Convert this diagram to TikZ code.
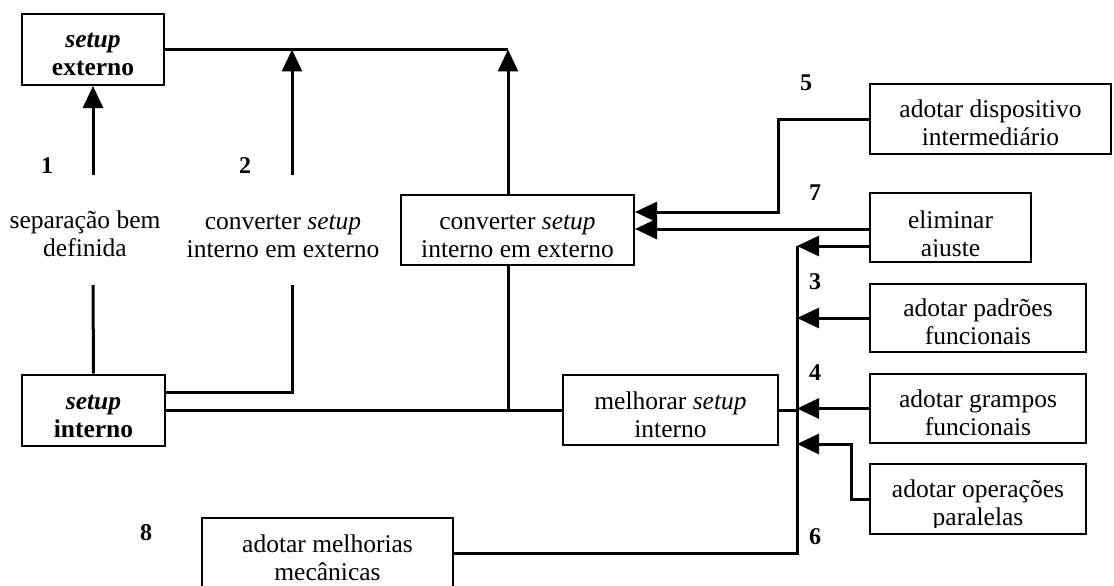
\documentclass[tikz,border=0pt]{standalone}
\usepackage{fontspec}
\setmainfont{Liberation Serif}
\usetikzlibrary{arrows.meta}
% two centred lines of equal height
\newcommand{\twolines}[2]{\strut#1\\\strut#2}

\begin{document}
\begin{tikzpicture}[x=1pt,y=-1pt,
  every node/.style={font=\fontsize{25.5}{28}\selectfont, inner sep=0pt},
  box/.style={draw, line width=2pt},
  txt/.style={align=center},
  num/.style={font=\fontsize{24}{26}\selectfont\bfseries},
  wire/.style={line width=3pt},
  arr/.style={wire, -{Triangle[length=22pt,width=20pt]}},
]
\useasboundingbox (0,0) rectangle (1114,586);

% boxes
\node[box, minimum width=142pt, minimum height=71pt] (ext)   at (93,49.5)   {};
\node[box, minimum width=143pt, minimum height=71pt] (int)   at (93.5,410)  {};
\node[box, minimum width=233pt, minimum height=70pt] (conv)  at (517.5,230) {};
\node[box, minimum width=215pt, minimum height=70pt] (mel)   at (670.5,410) {};
\node[box, minimum width=241pt, minimum height=70pt] (disp)  at (990.5,119) {};
\node[box, minimum width=161pt, minimum height=69pt] (elim)  at (950.5,227.5) {};
\node[box, minimum width=216pt, minimum height=68pt] (padr)  at (978,318)   {};
\node[box, minimum width=216pt, minimum height=69pt] (gramp) at (978,408.5) {};
\node[box, minimum width=216pt, minimum height=70pt] (oper)  at (978,499)   {};
\node[box, minimum width=251pt, minimum height=81pt] (mech)  at (327.5,558.5) {};

% box texts
\node[txt] (exttxt)  at ([yshift=-6pt]ext.center)  {\twolines{\textbf{\textit{setup}}}{\textbf{externo}}};
\node[txt] (inttxt)  at ([yshift=-8pt]int.center)  {\twolines{\textbf{\textit{setup}}}{\textbf{interno}}};
\node[txt] (convtxt) at ([yshift=-7.5pt]conv.center) {\twolines{converter \textit{setup}}{interno em externo}};
\node[txt] (meltxt)  at ([yshift=-8pt]mel.center)  {\twolines{melhorar \textit{setup}}{interno}};
\node[txt] (disptxt) at ([yshift=-7pt]disp.center) {\twolines{adotar dispositivo}{intermediário}};
\begin{scope}
  \clip (elim.north west) rectangle (elim.east |- 0,256.5);
  \node[txt] (elimtxt) at ([yshift=-9pt]elim.center) {\twolines{eliminar}{ajuste}};
\end{scope}
\node[txt] (padrtxt)  at ([yshift=-7pt]padr.center)  {\twolines{adotar padrões}{funcionais}};
\node[txt] (gramptxt) at ([yshift=-7pt]gramp.center) {\twolines{adotar grampos}{funcionais}};
\begin{scope}
  \clip (oper.north west) rectangle (oper.east |- 0,527.5);
  \node[txt] (opertxt) at ([yshift=-7pt]oper.center) {\twolines{adotar operações}{paralelas}};
\end{scope}
\node[txt] (mechtxt) at (327.5,561) {\twolines{adotar melhorias}{mecânicas}};

% free texts
\node[txt] (septxt) at (85,237) {\twolines{separação bem}{definida}};
\node[txt] (c2txt)  at (283,237.5)  {\twolines{converter \textit{setup}}{interno em externo}};

% step numbers
\node[num] (n1) at (47,166)  {1};
\node[num] (n2) at (245,166) {2};
\node[num] (n5) at (806,83)  {5};
\node[num] (n7) at (815,193) {7};
\node[num] (n3) at (815,282) {3};
\node[num] (n4) at (815,373) {4};
\node[num] (n6) at (815,537) {6};
\node[num] (n8) at (146,533) {8};

% junction points
\coordinate (j1)   at (93,175);
\coordinate (k1)   at (93,285);
\coordinate (j2)   at (292,175);
\coordinate (k2)   at (292,285);
\coordinate (top2) at (292,49.5);
\coordinate (top3) at (508,49.5);
\coordinate (busT) at (797,246);
\coordinate (busB) at (797,553);
\coordinate (opbend)   at (851,444);
\coordinate (dispbend) at (778,212);

% left side
\draw[wire] (ext.east) -- (top3);
\draw[arr]  (j1) -- (ext.south);
\draw[wire] (int.north) -- (k1);
\draw[arr]  (j2) -- (top2);
\draw[wire] (int.east |- 0,392) -| (k2);
\draw[arr]  (top3 |- conv.north) -- (top3);
\draw[wire] (top3 |- conv.south) -- (top3 |- mel.west);
\draw[wire] (int.east) -- (mel.west);

% collecting bus on the right
\draw[wire] (mel.east) -- (mel.east -| busT);
\draw[wire] (busT) -- (busB) -- (busB -| mech.east);
\draw[arr]  (elim.west |- 0,246) -- (busT);
\draw[arr]  (padr.west) -- (padr.west -| busT);
\draw[arr]  (gramp.west) -- (gramp.west -| busT);
\draw[arr]  (oper.west) -| (opbend) -- (opbend -| busT);

% into the central box
\draw[arr]  (disp.west) -| (dispbend) -- (dispbend -| conv.east);
\draw[arr]  (elim.west |- 0,229) -- (conv.east |- 0,229);
\end{tikzpicture}
\end{document}
